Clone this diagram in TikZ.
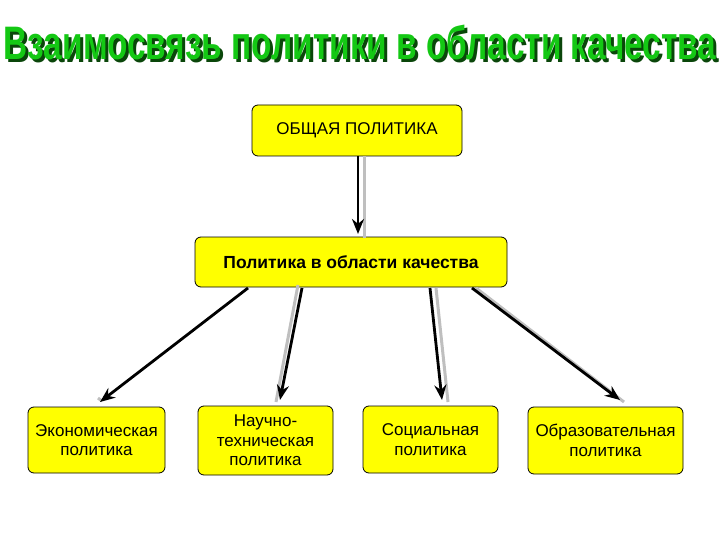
\documentclass[tikz,border=0pt]{standalone}
\usepackage{fontspec}
\setmainfont{Liberation Sans}
\usetikzlibrary{arrows.meta}
\definecolor{boxy}{RGB}{255,255,0}
\definecolor{tgreen}{RGB}{20,200,20}
\definecolor{tdark}{RGB}{10,70,10}
\tikzset{
 box/.style={draw=black,fill=boxy,rounded corners=6pt,line width=0.8pt,align=center,inner sep=1pt,font=\fontsize{17}{19.5}\selectfont},
 arr/.style={line width=2.8pt,-{Stealth[length=15pt,width=12pt]}},
 shad/.style={line width=3pt,gray!50}
}
\begin{document}
\begin{tikzpicture}[x=1pt,y=-1pt]
\useasboundingbox (0,0) rectangle (720,540);
\node[text=tdark] (tsh) at (363,45) {\scalebox{0.71}[1]{\fontsize{47}{50}\selectfont\bfseries Взаимосвязь политики в области качества}};
\node[text=tgreen] (title) at (360,42) {\scalebox{0.71}[1]{\fontsize{47}{50}\selectfont\bfseries Взаимосвязь политики в области качества}};
\node[box,minimum width=210,minimum height=51] (top) at (357,130.5) {ОБЩАЯ ПОЛИТИКА};
\node[box,minimum width=312,minimum height=50,font=\fontsize{17.5}{20}\selectfont\bfseries] (mid) at (351,262) {Политика в области качества};
\node[box,minimum width=137,minimum height=66] (b1) at (96.5,440) {Экономическая\\политика};
\node[box,minimum width=135,minimum height=69] (b2) at (265.5,440.5) {Научно-\\техническая\\политика};
\node[box,minimum width=135,minimum height=67] (b3) at (430.5,439.5) {Социальная\\политика};
\node[box,minimum width=155,minimum height=67] (b4) at (605.5,440.5) {Образовательная\\политика};
\coordinate (m1) at (248,288); \coordinate (m2) at (302,288);
\coordinate (m3) at (430,288); \coordinate (m4) at (472,288);
\coordinate (e1) at (100,402); \coordinate (e2) at (280,400);
\coordinate (e3) at (442,400); \coordinate (e4) at (620,400);
\coordinate (t0) at (358,156); \coordinate (t1) at (358,234);
\draw[shad] ([xshift=6pt]t0) -- ([xshift=6pt,yshift=-4pt]t1);
\draw[shad] ([xshift=-4pt,yshift=3pt]m2) -- ([xshift=-4pt,yshift=-2pt]e2);
\draw[shad] ([xshift=6pt]m3) -- ([xshift=6pt,yshift=-2pt]e3);
\draw[shad] ([xshift=4pt]m4) -- ([xshift=4pt,yshift=-2pt]e4);
\draw[shad] ([xshift=-2pt,yshift=4pt]e1) -- ([xshift=2pt,yshift=1pt]e1);
\draw[arr] (t0) -- (t1);
\draw[arr] (m1) -- (e1);
\draw[arr] (m2) -- (e2);
\draw[arr] (m3) -- (e3);
\draw[arr] (m4) -- (e4);
\end{tikzpicture}
\end{document}
